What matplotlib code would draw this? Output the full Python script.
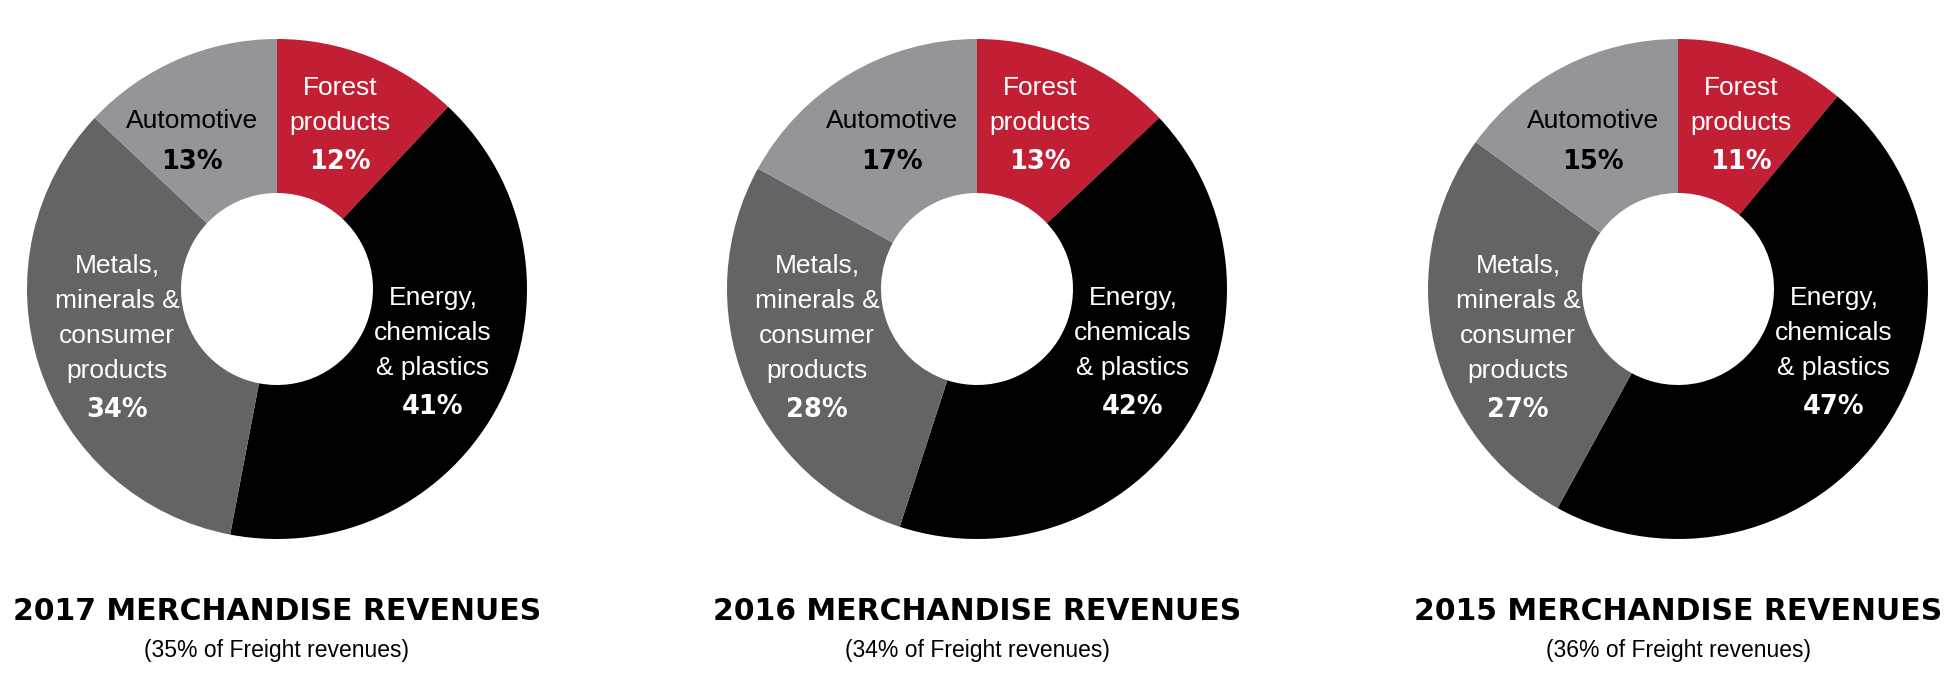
import matplotlib
matplotlib.use("Agg")
import matplotlib.pyplot as plt
from matplotlib import font_manager

# ---------------- data ----------------
years = ["2017", "2016", "2015"]
freight_share = ["35%", "34%", "36%"]
categories = ["Forest\nproducts", "Energy,\nchemicals\n& plastics",
              "Metals,\nminerals &\nconsumer\nproducts", "Automotive"]
values_2017 = [12, 41, 34, 13]
values_2016 = [13, 42, 28, 17]
values_2015 = [11, 47, 27, 15]
all_values = [values_2017, values_2016, values_2015]

# ---------------- style ----------------
colors = ["#C21F35", "#000000", "#636466", "#939598"]
name_colors = ["white", "white", "white", "black"]
pct_colors = ["white", "white", "white", "black"]

avail = {f.name for f in font_manager.fontManager.ttflist}
label_font = "Liberation Sans" if "Liberation Sans" in avail else "DejaVu Sans"

W, H = 1950, 676
fig = plt.figure(figsize=(W / 100, H / 100), dpi=100)
ax = fig.add_axes([0, 0, 1, 1])

centers_x = [277, 977, 1678]
center_y = H - 289
R = 250
hole = 96

# label layout offsets (pixels, relative to centre; y measured downward)
name_dx = [63, 156, -160, -85]
name_top_dy = [-201, 9, -23, -168]   # first line centre
line_gap = 35
pct_dy = [-127, 118, 121, -127]

for cx, vals, yr, share in zip(centers_x, all_values, years, freight_share):
    ax.pie(vals, colors=colors, startangle=90, counterclock=False,
           radius=R, center=(cx, center_y),
           wedgeprops=dict(width=R - hole, linewidth=0))
    for i, (cat, v) in enumerate(zip(categories, vals)):
        lines = cat.split("\n")
        for j, ln in enumerate(lines):
            ax.text(cx + name_dx[i], center_y - (name_top_dy[i] + j * line_gap),
                    ln, ha="center", va="center", fontsize=19,
                    family=label_font, color=name_colors[i])
        ax.text(cx + name_dx[i], center_y - pct_dy[i], f"{v}%",
                ha="center", va="center", fontsize=18.5, fontweight="bold",
                family="DejaVu Sans", color=pct_colors[i])
    ax.text(cx, H - 611, f"{yr} MERCHANDISE REVENUES", ha="center", va="center",
            fontsize=21.5, fontweight="bold", family="DejaVu Sans", color="black")
    ax.text(cx, H - 650, f"({share} of Freight revenues)", ha="center", va="center",
            fontsize=16.5, family=label_font, color="black")

ax.set_xlim(0, W)
ax.set_ylim(0, H)
ax.set_aspect("equal")
ax.axis("off")

fig.savefig("out.png", dpi=100, facecolor="white")
